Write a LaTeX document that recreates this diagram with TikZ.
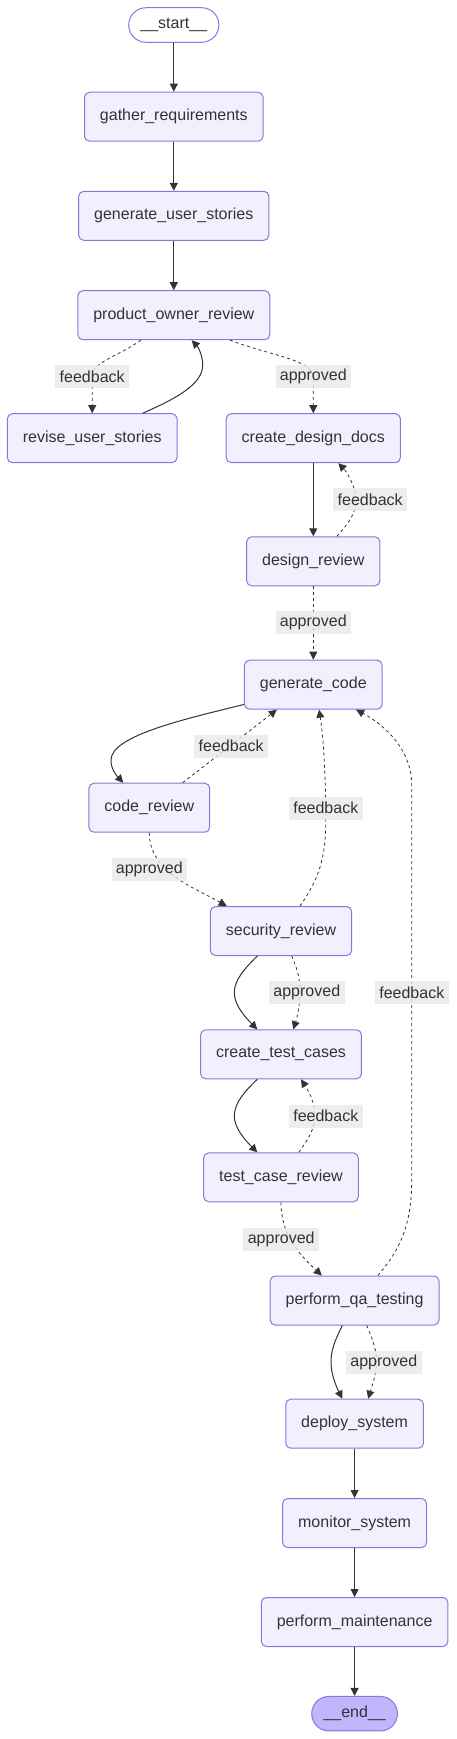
\documentclass[tikz,border=0pt]{standalone}
\usepackage{fontspec}
\setmainfont{Liberation Sans}
\usetikzlibrary{arrows.meta,calc}
\definecolor{nodefill}{HTML}{F2F0FF}
\definecolor{nodeline}{HTML}{9370DB}
\definecolor{endfill}{HTML}{BFB6FC}
\definecolor{lblfill}{HTML}{E8E8E8}
\definecolor{ink}{HTML}{333333}
\begin{document}
\begin{tikzpicture}[x=0.75pt,y=-0.75pt,line join=round,>={Triangle[length=6pt,width=6pt]},
  box/.style={draw=nodeline,fill=nodefill,line width=0.75pt,rounded corners=3.75pt,minimum height=36.75pt,inner xsep=11.6pt,text=ink,font=\fontsize{12pt}{14pt}\selectfont},
  term/.style={box,rounded corners=12.9pt,minimum height=25.9pt,inner xsep=8.8pt},
  flow/.style={draw=ink,line width=0.75pt,->},
  cond/.style={flow,line width=0.6pt,dash pattern=on 2.25pt off 2.25pt},
  elabel/.style={fill=lblfill,fill opacity=0.8,text opacity=1,text=ink,inner xsep=3.3pt,inner ysep=0pt,minimum height=17.25pt,font=\fontsize{12pt}{14pt}\selectfont}]
  \useasboundingbox (0,0) rectangle (457,1739);
  \node[term,fill=white] (start) at (173.8,25) {\_\_start\_\_};
  \node[box] (gather) at (173.8,116.7) {gather\_requirements};
  \node[box] (stories) at (173.8,215.8) {generate\_user\_stories};
  \node[box] (pow) at (173.8,315.2) {product\_owner\_review};
  \node[box] (revise) at (92.2,438.2) {revise\_user\_stories};
  \node[box] (cdd) at (313.3,438.2) {create\_design\_docs};
  \node[box] (design) at (313.3,561.3) {design\_review};
  \node[box] (gencode) at (313.3,684.7) {generate\_code};
  \node[box] (codereview) at (149.3,807.7) {code\_review};
  \node[box] (security) at (281,931) {security\_review};
  \node[box] (ctc) at (281,1054.3) {create\_test\_cases};
  \node[box] (tcr) at (281,1177.3) {test\_case\_review};
  \node[box] (qa) at (354.6,1300.5) {perform\_qa\_testing};
  \node[box] (deploy) at (354.6,1423.7) {deploy\_system};
  \node[box] (monitor) at (354.6,1523) {monitor\_system};
  \node[box] (maint) at (354.6,1622) {perform\_maintenance};
  \node[term,fill=endfill] (end) at (354.6,1713.7) {\_\_end\_\_};

  \draw[flow] (start) -- (gather);
  \draw[flow] (gather) -- (stories);
  \draw[flow] (stories) -- (pow);
  \draw[cond] ($(pow.south)+(-32.8,0)$) .. controls (115,358) and (92.2,362) .. (92.2,376.8) -- (revise.north);
  \draw[flow] ($(revise.north)+(50.5,0)$) .. controls (180,397) and (202.7,383) .. (202.7,365) .. controls (202.7,355) and (198,347) .. ($(pow.south)+(17.9,0)$);
  \draw[cond] ($(pow.south)+(56.2,0)$) .. controls (272,356) and (313.3,360) .. (313.3,376.8) -- (cdd.north);
  \draw[flow] (cdd) -- (design);
  \draw[cond] ($(design.north)+(23.5,0)$) .. controls (350,522) and (356,512) .. (356,500) .. controls (356,486) and (346,471) .. ($(cdd.south)+(25,0)$);
  \draw[cond] (design) -- (gencode);
  \draw[flow] ($(gencode.south west)+(0,-5.3)$) .. controls (190,718) and (111,735) .. (111,760) .. controls (111,770) and (117,776) .. ($(codereview.north)+(-26,0)$);
  \draw[cond] ($(codereview.north)+(33.4,0)$) -- ($(gencode.south)+(-36.5,0)$);
  \draw[cond] (codereview.south) .. controls (149,872) and (195,888) .. ($(security.north)+(-54.3,0)$);
  \draw[cond] ($(security.north)+(19,0)$) .. controls (318,880) and (325.8,860) .. (325.8,820) .. controls (325.8,770) and (323,735) .. ($(gencode.south)+(5.8,0)$);
  \draw[flow] ($(security.south)+(-23.7,0)$) .. controls (245,968) and (234.3,980) .. (234.3,992.5) .. controls (234.3,1005) and (245,1017) .. ($(ctc.north)+(-23.7,0)$);
  \draw[cond] ($(security.south)+(10.7,0)$) .. controls (298,970) and (300,980) .. (300,992.5) .. controls (300,1005) and (297,1018) .. ($(ctc.north)+(12.3,0)$);
  \draw[flow] ($(ctc.south)+(-23.7,0)$) .. controls (245,1091) and (234.3,1103) .. (234.3,1116) .. controls (234.3,1128) and (245,1140) .. ($(tcr.north)+(-23.7,0)$);
  \draw[cond] ($(tcr.north)+(17.8,0)$) .. controls (308,1140) and (315,1128) .. (315,1116) .. controls (315,1102) and (308,1090) .. ($(ctc.south)+(20,0)$);
  \draw[cond] (tcr.south) .. controls (281,1236) and (300,1255) .. ($(qa.north)+(-32.8,0)$);
  \draw[cond] ($(qa.north)+(23.2,0)$) .. controls (400,1250) and (411.7,1225) .. (411.7,1180) -- (411.7,785) .. controls (411.7,750) and (385,725) .. ($(gencode.south)+(42.8,0)$);
  \draw[flow] ($(qa.south)+(-12.2,0)$) .. controls (335,1340) and (331,1350) .. (331,1362) .. controls (331,1374) and (336,1386) .. ($(deploy.north)+(-12.3,0)$);
  \draw[cond] ($(qa.south)+(12.2,0)$) .. controls (373,1340) and (376.5,1350) .. (376.5,1362) .. controls (376.5,1374) and (372,1386) .. ($(deploy.north)+(13.6,0)$);
  \draw[flow] (deploy) -- (monitor);
  \draw[flow] (monitor) -- (maint);
  \draw[flow] (maint) -- (end);

  \node[elabel] (l1) at (92.2,376.8) {feedback};
  \node[elabel] (l2) at (313.3,376.8) {approved};
  \node[elabel] (l3) at (370.2,499.8) {feedback};
  \node[elabel] (l4) at (313.3,622.8) {approved};
  \node[elabel] (l5) at (231.2,746) {feedback};
  \node[elabel] (l6) at (325.8,808) {feedback};
  \node[elabel] (l7) at (149.3,869.2) {approved};
  \node[elabel] (l8) at (306.8,992.7) {approved};
  \node[elabel] (l9) at (411.8,992.7) {feedback};
  \node[elabel] (l10) at (325.8,1116) {feedback};
  \node[elabel] (l11) at (281.2,1239) {approved};
  \node[elabel] (l12) at (383.8,1362) {approved};
\end{tikzpicture}
\end{document}
